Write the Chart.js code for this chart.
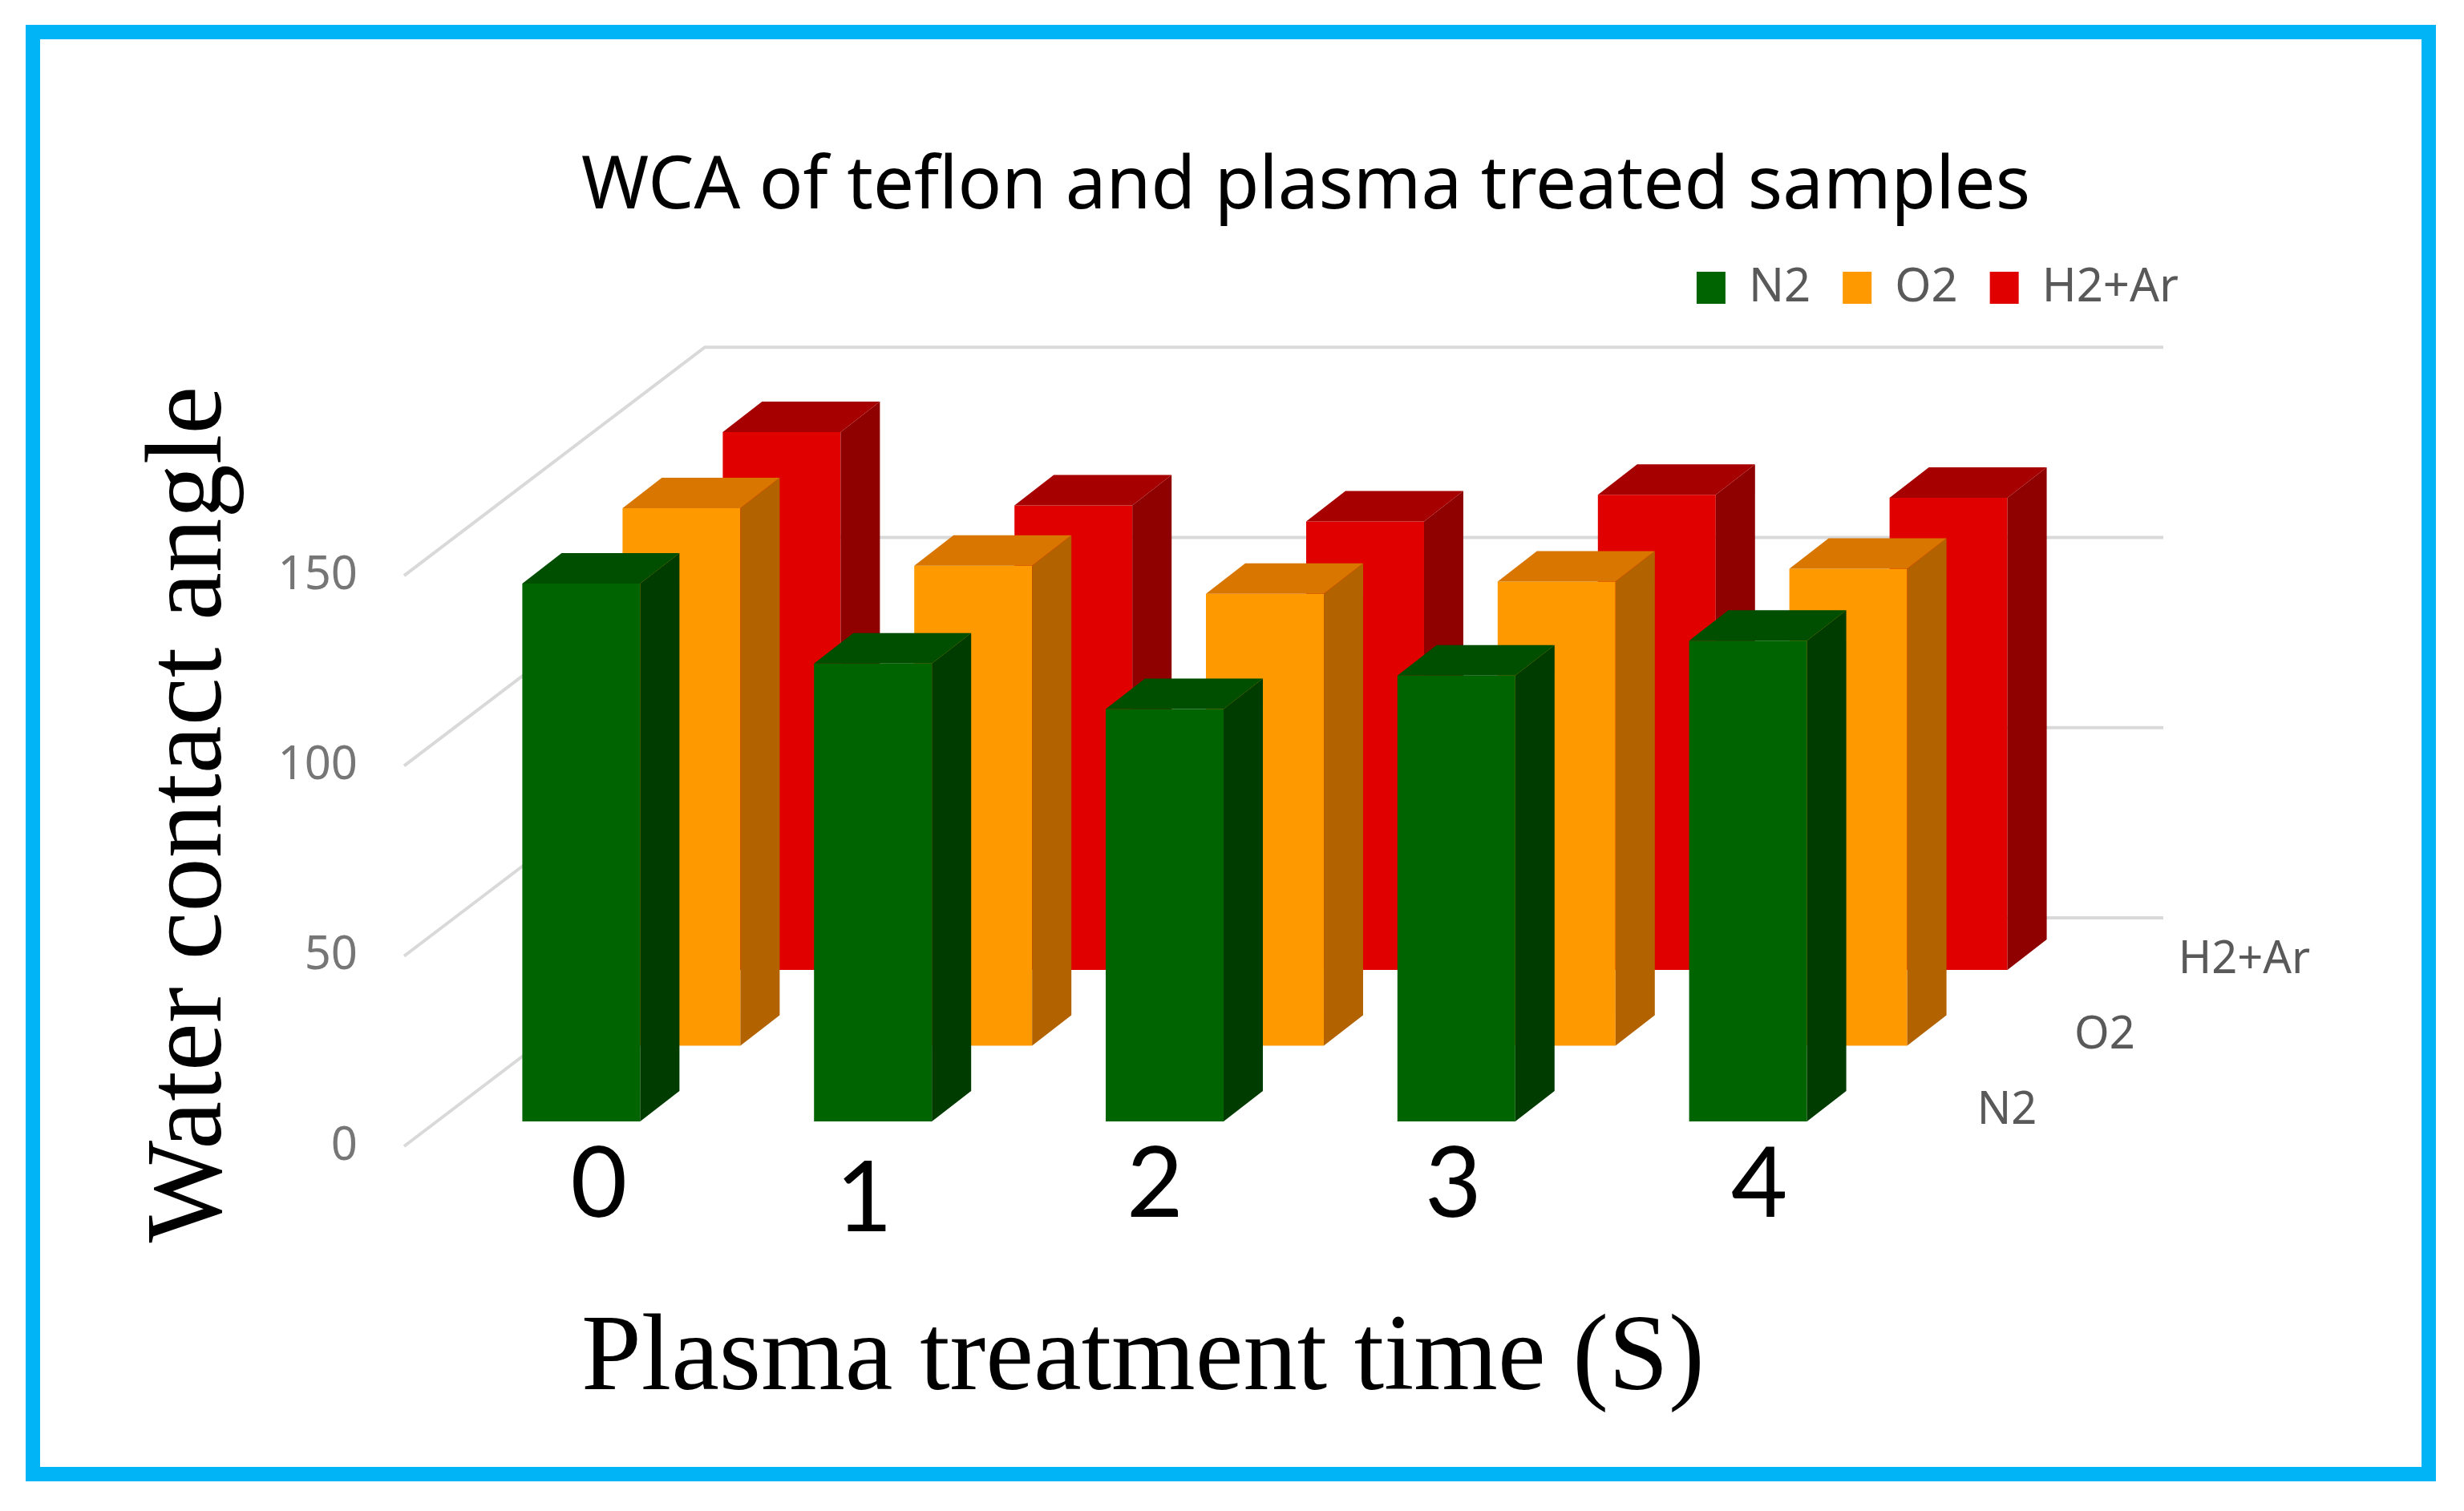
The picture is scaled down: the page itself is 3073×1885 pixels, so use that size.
<!DOCTYPE html>
<html>
<head>
<meta charset="utf-8">
<title>WCA of teflon and plasma treated samples</title>
<script src="https://cdn.jsdelivr.net/npm/chart.js@4/dist/chart.umd.min.js"></script>
<style>
    html, body { margin: 0; padding: 0; background: #fff; }
    #frame {
        position: absolute; left: 32px; top: 31px; width: 3006px; height: 1817px;
        box-sizing: border-box; border: 18px solid #00b4f5;
    }
    #wca { position: absolute; left: 0; top: 0; }
</style>
</head>
<body>
<div id="frame"></div>
<canvas id="wca" width="3073" height="1885"></canvas>
<script>
const categories = ['0', '1', '2', '3', '4'];
const seriesNames = ['N2', 'O2', 'H2+Ar'];
const n2Values = [141.4, 120.4, 108.4, 117.2, 126.4];
const o2Values = [141.3, 126.2, 118.8, 122, 125.4];
const h2ArValues = [141.4, 122.1, 117.9, 124.9, 124.1];
const yTicks = [0, 50, 100, 150];

const chartTitle = 'WCA of teflon and plasma treated samples';
const yTitle = 'Water contact angle';
const xTitle = 'Plasma treatment time (S)';

// front, top and side colour of each series
const faces = [
    ['#006400', '#004e00', '#003c00'],
    ['#ff9900', '#d87600', '#b36200'],
    ['#e00000', '#a60000', '#8f0000']
];

// the floor runs back from the axis plane, each series sits further in
const depthOffsets = [[39, -31], [164, -125.5], [289, -220]];
const wallDepth = [375, -285];
const barDepth = [49, -38];

// digits were pasted on by hand in the original, so they do not sit on the ticks
const digitNudge = [[61, 49], [28, 67], [27, 49], [35, 49], [53, 49]];
const depthLabels = [[2503, 1386], [2625, 1292], [2799, 1198]];

function poly(ctx, color, pts) {
    ctx.fillStyle = color;
    ctx.beginPath();
    pts.forEach((p, i) => i ? ctx.lineTo(p[0], p[1]) : ctx.moveTo(p[0], p[1]));
    ctx.closePath();
    ctx.fill();
}

const bars3d = {
    id: 'bars3d',
    afterLayout(chart) {
        const t = chart.titleBlock;
        t.left = 725; t.right = 2532; t.top = 169; t.bottom = 297;
        const l = chart.legend;
        l.right = 2757; l.top = 290;
    },
    beforeDatasetsDraw(chart) {
        const ctx = chart.ctx, y = chart.scales.y, area = chart.chartArea;
        ctx.save();
        ctx.strokeStyle = '#d9d9d9';
        ctx.lineWidth = 4;
        yTicks.forEach(v => {
            const py = y.getPixelForValue(v);
            ctx.beginPath();
            ctx.moveTo(area.left, py);
            ctx.lineTo(area.left + wallDepth[0], py + wallDepth[1]);
            ctx.lineTo(area.right + wallDepth[0], py + wallDepth[1]);
            ctx.stroke();
        });
        ctx.restore();
    },
    beforeDatasetDraw(chart, args) {
        const off = depthOffsets[args.index];
        chart.ctx.save();
        chart.ctx.translate(off[0], off[1]);
    },
    afterDatasetDraw(chart, args) {
        const ctx = chart.ctx, c = faces[args.index];
        const dx = barDepth[0], dy = barDepth[1];
        args.meta.data.forEach(bar => {
            const l = bar.x - bar.width / 2, r = bar.x + bar.width / 2;
            poly(ctx, c[2], [[r, bar.y], [r + dx, bar.y + dy], [r + dx, bar.base + dy], [r, bar.base]]);
            poly(ctx, c[1], [[l, bar.y], [l + dx, bar.y + dy], [r + dx, bar.y + dy], [r, bar.y]]);
        });
        ctx.restore();
    },
    afterDraw(chart) {
        const ctx = chart.ctx, x = chart.scales.x, y0 = chart.scales.y.getPixelForValue(0);
        ctx.save();
        ctx.textBaseline = 'middle';
        ctx.textAlign = 'center';
        ctx.fillStyle = '#000';
        ctx.font = '122px Lato';
        categories.forEach((c, i) => {
            ctx.fillText(c, x.getPixelForTick(i) + digitNudge[i][0], y0 + digitNudge[i][1]);
        });
        ctx.fillStyle = '#595959';
        ctx.font = '56px "Noto Sans"';
        seriesNames.forEach((s, i) => ctx.fillText(s, depthLabels[i][0], depthLabels[i][1]));

        ctx.fillStyle = '#000';
        ctx.textBaseline = 'alphabetic';
        ctx.textAlign = 'left';
        ctx.font = '134.5px "Liberation Serif"';
        ctx.fillText(xTitle, 725, 1733);
        ctx.translate(275, 1016);
        ctx.rotate(-Math.PI / 2);
        ctx.textAlign = 'center';
        ctx.font = '135px "Liberation Serif"';
        ctx.fillText(yTitle, 0, 0);
        ctx.restore();
    }
};

Chart.defaults.font.family = '"Noto Sans"';

new Chart(document.getElementById('wca'), {
    type: 'bar',
    data: {
        labels: categories,
        datasets: [n2Values, o2Values, h2ArValues].map((vals, i) => ({
            label: seriesNames[i],
            data: vals,
            backgroundColor: faces[i][0],
            borderWidth: 0,
            clip: false
        }))
    },
    plugins: [bars3d],
    options: {
        responsive: false,
        animation: false,
        devicePixelRatio: 1,
        layout: { padding: { top: 481, left: 0, right: 750, bottom: 0 } },
        datasets: { bar: { grouped: false, categoryPercentage: 1, barPercentage: 0.404 } },
        plugins: {
            tooltip: { enabled: false },
            title: { display: true, text: chartTitle, color: '#000', font: { size: 91, weight: 'normal' } },
            legend: {
                position: 'top',
                align: 'end',
                labels: { boxWidth: 36, boxHeight: 40, padding: 40, color: '#595959', font: { size: 58 } }
            }
        },
        scales: {
            x: {
                grid: { display: false },
                border: { display: false },
                ticks: { display: false },
                afterFit: s => { s.height = 455; }
            },
            y: {
                min: 0,
                max: 150,
                grid: { display: false, drawTicks: false },
                border: { display: false },
                ticks: { stepSize: 50, padding: 58, color: '#767676', font: { size: 58 } },
                afterFit: s => { s.width = 504; }
            }
        }
    }
});
</script>
</body>
</html>
